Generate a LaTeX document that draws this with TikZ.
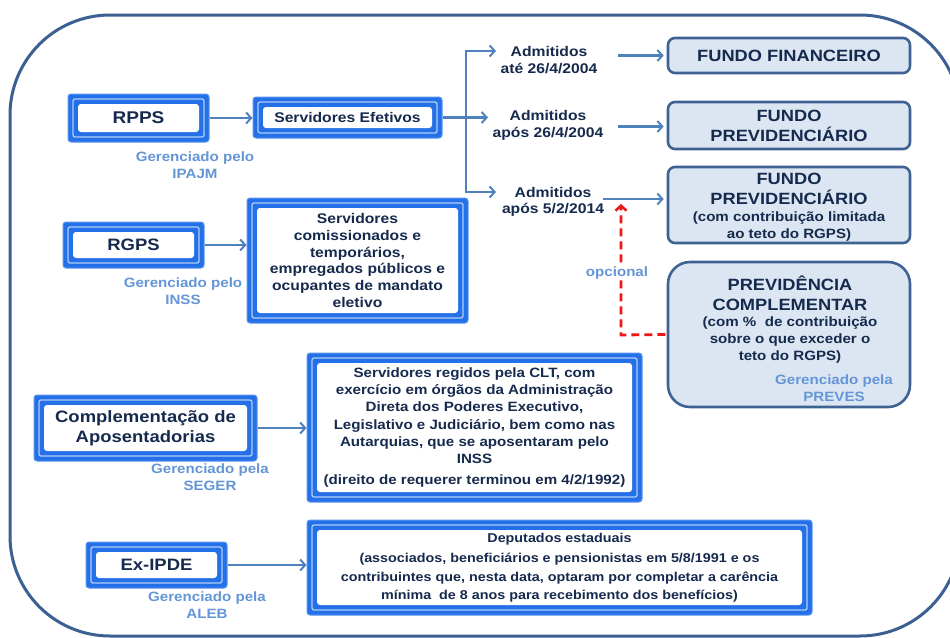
\documentclass[tikz,border=0pt]{standalone}
\usepackage{fontspec}
\setmainfont{Liberation Sans}[FakeStretch=1.12]
\usetikzlibrary{arrows.meta}
\definecolor{navy}{RGB}{22,42,78}
\definecolor{boxblue}{RGB}{35,112,232}
\definecolor{boxline}{RGB}{175,205,245}
\definecolor{arrowblue}{RGB}{79,129,189}
\definecolor{fundfill}{RGB}{220,230,242}
\definecolor{fundedge}{RGB}{62,98,146}
\definecolor{mgrblue}{RGB}{100,150,215}
\definecolor{framecol}{RGB}{60,96,145}
\definecolor{dashred}{RGB}{240,20,20}
\newcommand{\fs}[2]{\fontsize{#1}{#2}\selectfont}
\begin{document}
\begin{tikzpicture}[x=1pt,y=-1pt,
 bbox/.style={fill=boxblue, draw=boxblue!75!white, line width=1pt, rounded corners=3pt, inner sep=0pt, align=center, text=navy, font=\bfseries,
   path picture={
     \draw[boxline, line width=1.3pt, rounded corners=2pt] ([xshift=5pt,yshift=-5pt]path picture bounding box.north west) rectangle ([xshift=-5pt,yshift=5pt]path picture bounding box.south east);
     \fill[white] ([xshift=10pt,yshift=-10pt]path picture bounding box.north west) rectangle ([xshift=-10pt,yshift=10pt]path picture bounding box.south east);
   }},
 fund/.style={fill=fundfill, draw=fundedge, line width=2.6pt, rounded corners=7pt, inner sep=0pt, align=center, text=navy, font=\bfseries},
 ftxt/.style={text=navy, align=center, inner sep=0pt},
 mgr/.style={text=mgrblue, font=\bfseries\fs{13.5}{17}, align=center, inner sep=0pt},
 adm/.style={text=navy, font=\bfseries\fs{14}{16.5}, align=center, inner sep=0pt},
 arr/.style={draw=arrowblue, line width=2.2pt, -{Straight Barb[length=5pt,width=11pt,line width=2pt]}},
 aline/.style={draw=arrowblue, line width=2.2pt},
 reddash/.style={draw=dashred, line width=2.8pt, dash pattern=on 8pt off 5pt, -{Straight Barb[length=5pt,width=11pt,line width=2.5pt]}},
]
\useasboundingbox (0,0) rectangle (950,637);
\fill[white] (0,0) rectangle (950,637);
\begin{scope}
\clip (0,0) rectangle (950,637);
\draw[framecol, line width=3pt, rounded corners=100pt] (10,15) rectangle (960,636);
\end{scope}

% blue boxes
\node[bbox, minimum width=141pt, minimum height=48pt, font=\bfseries\fs{17}{20}] (rpps) at (138.5,118) {RPPS};
\node[bbox, minimum width=189pt, minimum height=41pt, font=\bfseries\fs{14}{17}] (serv) at (347.5,117.5) {Servidores Efetivos};
\node[bbox, minimum width=141pt, minimum height=46pt, font=\bfseries\fs{16.5}{20}] (rgps) at (133.5,245) {RGPS};
\node[bbox, minimum width=221pt, minimum height=125pt, font=\bfseries\fs{14}{16.8}] (comm) at (357.5,260.5) {Servidores\\comissionados e\\temporários,\\empregados públicos e\\ocupantes de mandato\\eletivo};
\node[bbox, minimum width=223pt, minimum height=66pt, font=\bfseries\fs{16.5}{19.5}] (comp) at (145.5,428) {Complementação de\\Aposentadorias};
\node[bbox, minimum width=335pt, minimum height=149pt, font=\bfseries\fs{13.5}{17.3}] (clt) at (474.5,427.5) {Servidores regidos pela CLT, com\\exercício em órgãos da Administração\\Direta dos Poderes Executivo,\\Legislativo e Judiciário, bem como nas\\Autarquias, que se aposentaram pelo\\INSS\\[3.5pt](direito de requerer terminou em 4/2/1992)};
\node[bbox, minimum width=141pt, minimum height=46pt, font=\bfseries\fs{16.5}{20}] (exipde) at (156.5,565) {Ex-IPDE};
\node[bbox, minimum width=505pt, minimum height=95pt, font=\bfseries\fs{12.8}{18.3}] (dep) at (559.5,567.5) {Deputados estaduais\\[2.5pt](associados, beneficiários e pensionistas em 5/8/1991 e os\\contribuintes que, nesta data, optaram por completar a carência\\mínima\ \ de 8 anos para recebimento dos benefícios)};

% managed-by labels
\node[mgr] (m1) at (195,165) {Gerenciado pelo\\IPAJM};
\node[mgr] (m2) at (183,291.5) {Gerenciado pelo\\INSS};
\node[mgr] (m3) at (210,477.5) {Gerenciado pela\\SEGER};
\node[mgr] (m4) at (207,605.5) {Gerenciado pela\\ALEB};

% admitidos
\node[adm] (a1) at (549,60) {Admitidos\\até 26/4/2004};
\node[adm] (a2) at (548,125.5) {Admitidos\\após 26/4/2004};
\node[adm] (a3) at (553,202) {Admitidos\\após 5/2/2014};

% fund boxes
\node[fund, minimum width=242pt, minimum height=35pt, font=\bfseries\fs{16.3}{20}] (f1) at (789,55.5) {FUNDO FINANCEIRO};
\node[fund, minimum width=242pt, minimum height=47pt, font=\bfseries\fs{16.3}{20}] (f2) at (789,125.5) {FUNDO\\PREVIDENCIÁRIO};
\node[fund, minimum width=242pt, minimum height=76pt] (f3) at (789,205) {};
\node[ftxt, font=\bfseries\fs{16.3}{20}] (f3t) at (789,189) {FUNDO\\PREVIDENCIÁRIO};
\node[ftxt, font=\bfseries\fs{13.5}{17}] (f3s) at (789,226.5) {(com contribuição limitada\\ao teto do RGPS)};
\node[fund, rounded corners=22pt, minimum width=242pt, minimum height=145pt] (pc) at (789,334.5) {};
\node[ftxt, font=\bfseries\fs{16.3}{20}] (pct) at (790,293) {PREVIDÊNCIA\\COMPLEMENTAR};
\node[ftxt, font=\bfseries\fs{13.5}{17}] (pcs) at (790,340) {(com \%\ \ de contribuição\\sobre o que exceder o\\teto do RGPS)};
\node[mgr] (pcm) at (834,388.5) {Gerenciado pela\\PREVES};

% connectors
\draw[arr] (rpps.east) -- (rpps.east -| serv.west);
\coordinate (branch) at (466,117.5);
\coordinate (btop) at (466,51);
\coordinate (bbot) at (466,192);
\coordinate (e1) at (496,51);
\coordinate (e2) at (488,117.5);
\coordinate (e3) at (496,192);
\draw[aline] (serv.east) -- (branch);
\draw[aline] (btop) -- (bbot);
\draw[arr] ([xshift=-1.1pt]btop) -- (e1);
\draw[arr] (branch) -- (e2);
\draw[arr] ([xshift=-1.1pt]bbot) -- (e3);
\coordinate (s1) at (618,55.5);
\coordinate (s2) at (618,126.5);
\coordinate (s3) at (603,199);
\draw[arr, shorten >=3pt] (s1) -- (s1 -| f1.west);
\draw[arr, shorten >=3pt] (s2) -- (s2 -| f2.west);
\draw[arr, shorten >=3pt] (s3) -- (s3 -| f3.west);
\draw[arr] (rgps.east) -- (rgps.east -| comm.west);
\draw[arr] (comp.east) -- (comp.east -| clt.west);
\draw[arr] (exipde.east) -- (exipde.east -| dep.west);

\coordinate (rc) at (621,335);
\coordinate (rt) at (621,204);
\draw[reddash] ([xshift=-1.4pt]pc.west) -- (rc) -- (rt);
\node[fill=white, text=mgrblue, font=\bfseries\fs{13.5}{16}, inner sep=1pt] (opc) at (617,273) {opcional};
\end{tikzpicture}
\end{document}
